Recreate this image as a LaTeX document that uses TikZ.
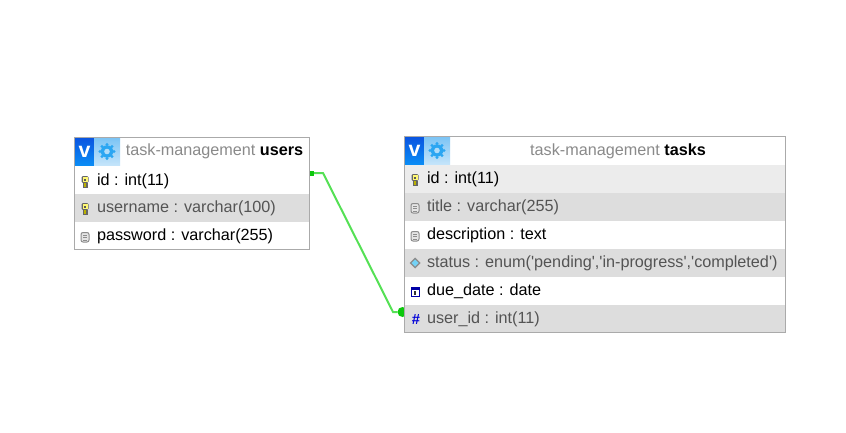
\documentclass[tikz,border=0pt]{standalone}
\usepackage{fontspec}
\setmainfont{Liberation Sans}
\usetikzlibrary{positioning,shadings}
\definecolor{rowgray}{HTML}{DDDDDD}
\definecolor{rowlight}{HTML}{ECECEC}
\definecolor{framegray}{HTML}{AAAAAA}
\definecolor{titlegray}{HTML}{8A8A8A}
\definecolor{linkgreen}{HTML}{55E055}
\definecolor{portgreen}{HTML}{0CC80C}
\definecolor{gearblue}{HTML}{2BA6F2}
\definecolor{vtop}{HTML}{0A55E0}
\definecolor{vbottom}{HTML}{0A8CF5}
\definecolor{geartop}{HTML}{7CC4F5}
\definecolor{gearbottom}{HTML}{C4E4FA}
\begin{document}
\begin{tikzpicture}[x=0.75pt,y=-0.75pt,
                    inner sep=0pt,
                    outer sep=0pt,
                    ]
    \tikzstyle{rowwhite}=[rectangle,fill=white,minimum height=21pt,anchor=north west]
    \tikzstyle{rowdark}=[rowwhite,fill=rowgray]
    \tikzstyle{rowpale}=[rowwhite,fill=rowlight]
    \tikzstyle{field}=[font=\fontsize{12.15pt}{14pt}\selectfont,text height=9pt,text depth=2.5pt]
    \tikzstyle{fielddim}=[field,text=black!67]
    \tikzstyle{tabletitle}=[field,text=titlegray]
    \tikzstyle{frame}=[draw=framegray,line width=0.75pt]
    \tikzset{
        toolbar/.pic={
            \shade[top color=vtop,bottom color=vbottom] (0,0) rectangle (19,27);
            \node[text=white,font=\fontsize{16pt}{16pt}\bfseries\selectfont] at (9.5,14) {v};
            \shade[top color=geartop,bottom color=gearbottom] (19,0) rectangle (45,27);
            \foreach \a in {0,45,...,315}
                \fill[gearblue] (32,13.5) ++(\a:7) circle (1.7);
            \fill[gearblue] (32,13.5) circle (6.2);
            \fill[geartop!60!white] (32,13.5) circle (2.8);
        },
        keyicon/.pic={
            \fill[black!60,rounded corners=1pt] (-3.5,-6) rectangle (3.5,1);
            \fill[yellow!55!white] (-2.5,-5) rectangle (2.5,0);
            \fill[black!65] (-1,-3.5) rectangle (1,-1.5);
            \fill[black!60] (-2,1) rectangle (2.5,6);
            \fill[olive!60!yellow] (-1,1) rectangle (1.2,5);
        },
        fileicon/.pic={
            \draw[black!45,fill=black!10,rounded corners=1.5pt,line width=0.75pt] (-4,-4.5) rectangle (4,5);
            \foreach \y in {-2,0.5,3}
                \draw[black!45,line width=0.75pt] (-2,\y) -- (2,\y);
        },
        enumicon/.pic={
            \fill[black!45] (0,-5.5) -- (5.5,0) -- (0,5.5) -- (-5.5,0) -- cycle;
            \fill[cyan!55!white] (0,-3.5) -- (3.5,0) -- (0,3.5) -- (-3.5,0) -- cycle;
        },
        dateicon/.pic={
            \draw[blue!65!black,fill=white,line width=0.75pt] (-4,-4.5) rectangle (4,4.5);
            \fill[blue!65!black] (-4,-4.5) rectangle (4,-2.5);
            \fill[black!80] (-0.6,-1) rectangle (0.6,3);
        },
    }

    % link ends, under the tables
    \node[fill=portgreen,minimum size=3.75pt] (idport) at (311.5,173) {};
    \node[circle,fill=portgreen,minimum size=7.5pt] (useridport) at (402.5,312) {};
    \path[draw,linkgreen,line width=1.5pt] (idport) -- (323,173) -- (393,312) -- (useridport);

    % users
    \node[rowwhite,minimum width=176.25pt] (usershead) at (75,138) {};
    \node[rowwhite,minimum width=176.25pt] (usersid) at (75,166) {};
    \node[rowdark,minimum width=176.25pt,below=0pt of usersid] (usersname) {};
    \node[rowwhite,minimum width=176.25pt,below=0pt of usersname] (userspass) {};
    \draw[frame] (74.5,137.5) rectangle (309.5,249.5);
    \pic at (75,138) {toolbar};
    \node[tabletitle] (userstitle) at (214.5,151) {task-management \textcolor{black}{\bfseries users}};
    \node[field,anchor=west] (usersidtext) at (97,181) {id : int(11)};
    \node[fielddim,anchor=west] (usersnametext) at (97,208) {username : varchar(100)};
    \node[field,anchor=west] (userspasstext) at (97,236) {password : varchar(255)};
    \pic at (85,182) {keyicon};
    \pic at (85,209) {keyicon};
    \pic at (85,237) {fileicon};

    % tasks
    \node[rowwhite,minimum width=285.75pt] (taskshead) at (405,137) {};
    \node[rowpale,minimum width=285.75pt] (tasksid) at (405,165) {};
    \node[rowdark,minimum width=285.75pt,below=0pt of tasksid] (taskstitle) {};
    \node[rowwhite,minimum width=285.75pt,below=0pt of taskstitle] (tasksdesc) {};
    \node[rowdark,minimum width=285.75pt,below=0pt of tasksdesc] (tasksstatus) {};
    \node[rowwhite,minimum width=285.75pt,below=0pt of tasksstatus] (tasksdue) {};
    \node[rowdark,minimum width=285.75pt,below=0pt of tasksdue] (tasksuser) {};
    \draw[frame] (404.5,136.5) rectangle (785.5,332.5);
    \pic at (405,137) {toolbar};
    \node[tabletitle] (taskscaption) at (618,151) {task-management \textcolor{black}{\bfseries tasks}};
    \node[field,anchor=west] (tasksidtext) at (427,179.5) {id : int(11)};
    \node[fielddim,anchor=west] (taskstitletext) at (427,207.5) {title : varchar(255)};
    \node[field,anchor=west] (tasksdesctext) at (427,235.5) {description : text};
    \node[fielddim,anchor=west] (tasksstatustext) at (427,263.5) {status : enum(\textquotesingle pending\textquotesingle,\textquotesingle in-progress\textquotesingle,\textquotesingle completed\textquotesingle)};
    \node[field,anchor=west] (tasksduetext) at (427,291.5) {due\_date : date};
    \node[fielddim,anchor=west] (tasksusertext) at (427,319.5) {user\_id : int(11)};
    \pic at (415,180) {keyicon};
    \pic at (415,208) {fileicon};
    \pic at (415,236) {fileicon};
    \pic at (415,263) {enumicon};
    \pic at (415,292) {dateicon};
    \node[text=blue!85!black,font=\fontsize{11pt}{11pt}\bfseries\selectfont] (tasksuserhash) at (416,320) {\#};

    \useasboundingbox (0,0) rectangle (846,432);
\end{tikzpicture}
\end{document}
